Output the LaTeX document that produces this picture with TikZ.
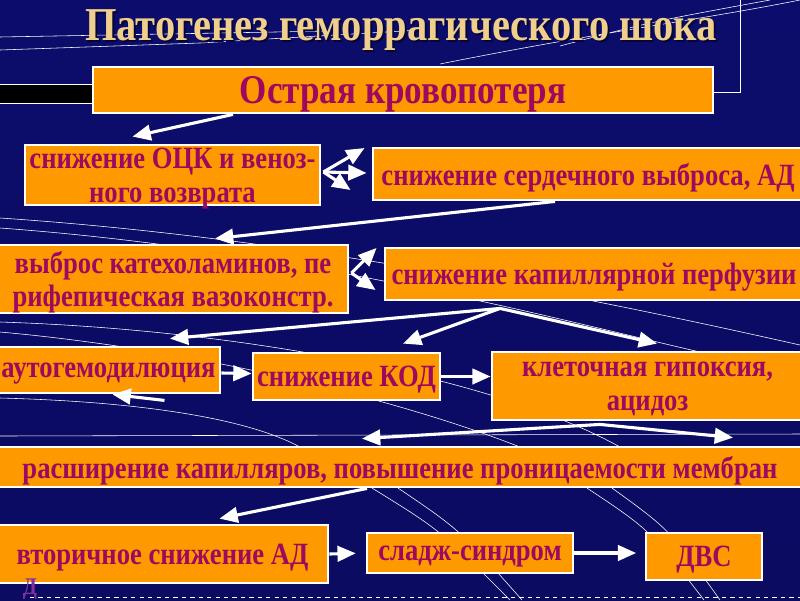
\documentclass[tikz,border=0pt]{standalone}
\usepackage{fontspec}
\setmainfont{Liberation Serif}[FakeStretch=0.86]
\usepackage{tikz}
\usetikzlibrary{arrows.meta,calc}
\definecolor{bgblue}{RGB}{12,12,108}
\definecolor{bgdark}{RGB}{5,5,55}
\definecolor{boxorange}{RGB}{255,153,0}
\definecolor{txtpurple}{RGB}{158,8,96}
\definecolor{titletan}{RGB}{240,206,140}
\definecolor{strayviolet}{RGB}{128,48,160}

\tikzset{
  box/.style={draw=white,line width=2pt,fill=boxorange,text=txtpurple,
    font=\bfseries\fontsize{22}{24}\selectfont,align=center,inner sep=0pt,text depth=0pt},
  arr/.style={draw=white,line width=2.2pt,-{Triangle[length=13pt,width=11pt]}},
  deco/.style={draw=white,line width=0.4pt}
}

\begin{document}
\begin{tikzpicture}[x=0.025cm,y=-0.025cm]
\useasboundingbox (0,0) rectangle (800,600);
\shade[top color=bgblue,bottom color=bgblue!80!bgdark] (0,0) rectangle (800,600);
% template lines
\draw[deco] (0,37) -- (330,31);
\draw[deco] (0,50) -- (200,43) -- (420,30);
\draw[deco] (440,64) .. controls (600,32) and (700,20) .. (800,0);
\draw[deco] (560,46) .. controls (650,22) .. (770,0);
\draw[deco] (740,0) -- (740,92) -- (713,92);
\draw[deco,fill=black] (-2,84) rectangle (93,103);
\draw[deco] (0,218) .. controls (300,238) and (600,300) .. (800,345);
\draw[deco] (0,228) .. controls (300,250) and (560,320) .. (700,352);
\draw[deco] (0,322) .. controls (250,330) and (500,380) .. (620,447);
\draw[deco] (0,332) .. controls (200,350) and (400,400) .. (520,447);
\draw[deco] (0,398) .. controls (150,402) and (250,420) .. (300,447);
\draw[deco] (0,436) -- (800,434);
\draw[deco] (372,488) .. controls (440,530) .. (510,600);
\draw[deco] (398,488) .. controls (460,530) .. (522,600);
\draw[deco] (587,488) .. controls (650,530) .. (704,600);
\draw[deco] (612,488) .. controls (670,530) .. (720,600);
\draw[deco,dashed] (30,597) -- (800,597);

% title
\node[text=bgdark,font=\bfseries\fontsize{33.5}{34}\selectfont] at (403,32) {Патогенез геморрагического шока};
\node[text=titletan,font=\bfseries\fontsize{33.5}{34}\selectfont] (title) at (401,30) {Патогенез геморрагического шока};

% boxes
\node[box,font=\bfseries\fontsize{29}{30}\selectfont,minimum width=15.5cm,minimum height=1.15cm] (krov) at (403,90) {Острая кровопотеря};
\node[box,minimum width=7.375cm,minimum height=1.5cm] (ocz) at (172.5,175) {снижение ОЦК и веноз-\\ного возврата};
\node[box,minimum width=10.75cm,minimum height=1.3cm] (serd) at (588,174) {снижение сердечного выброса, АД};
\node[box,minimum width=8.75cm,minimum height=1.7cm] (vybros) at (173,279) {выброс катехоламинов, пе\\рифепическая вазоконстр.};
\node[box,minimum width=10.45cm,minimum height=1.3cm] (perf) at (594,274) {снижение капиллярной перфузии};
\node[box,minimum width=5.575cm,minimum height=1.15cm] (auto) at (108.5,370) {аутогемодилюция};
\node[box,minimum width=4.675cm,minimum height=1.175cm] (kod) at (346.5,376.5) {снижение КОД};
\node[box,minimum width=7.775cm,minimum height=1.7cm] (hyp) at (647.5,386) {клеточная гипоксия,\\ацидоз};
\node[box,minimum width=20.15cm,minimum height=1cm] (rassh) at (400,467) {расширение капилляров, повышение проницаемости мембран};
\node[box,minimum width=8.275cm,minimum height=1.45cm] (vtor) at (162.5,554) {вторичное снижение АД};
\node[box,minimum width=5.15cm,minimum height=1cm] (sladzh) at (470,553) {сладж-синдром};
\node[box,minimum width=2.9cm,minimum height=1.175cm] (dvs) at (704,556.5) {ДВС};
\node[text=strayviolet,font=\bfseries\fontsize{17}{17}\selectfont,inner sep=0pt,anchor=north] (strayd) at (30,579) {Д};

% arrows
\draw[arr] ($(krov.south)+(-170,0)$) -- ($(ocz.north)+(-40,-7)$);
\foreach \dx/\dy in {-7/-26,-5/-1,-21/16}
  \draw[arr] ($(ocz.east)+(2,-3)$) -- ($(serd.west)+(\dx,\dy)$);
\draw[arr] ($(serd.south)+(-33,0)$) -- ($(vybros.north)+(42,-5)$);
\foreach \dx/\dy in {-7/-26,-8/16}
  \draw[arr] ($(vybros.east)+(2,-6)$) -- ($(perf.west)+(\dx,\dy)$);
\coordinate (perfout) at ($(perf.south)+(-94,7)$);
\draw[arr] (perfout) -- ($(auto.north)+(61.5,-7)$);
\draw[arr] (perfout) -- ($(kod.north)+(56.5,-8)$);
\draw[arr] (perfout) -- ($(hyp.north)+(9.5,-7)$);
\draw[arr] ($(auto.east)+(0,3)$) -- ($(kod.west)+(0,-3)$);
\draw[arr] (kod.east) -- (kod.east -| hyp.west);
\draw[arr] ($(auto.south)+(56,6)$) -- ($(auto.south)+(4,0)$);
\coordinate (hypout) at ($(hyp.south)+(-47.5,3)$);
\draw[arr] (hypout) -- ($(rassh.north)+(-38,-7)$);
\draw[arr] (hypout) -- ($(rassh.north)+(333,-8)$);
\draw[arr] ($(rassh.south)+(-33,0)$) -- ($(vtor.north)+(57,-5)$);
\draw[arr,shorten >=7pt] (vtor.east) -- (sladzh.west);
\draw[arr,shorten >=6pt] (sladzh.east) -- (sladzh.east -| dvs.west);
\end{tikzpicture}
\end{document}
